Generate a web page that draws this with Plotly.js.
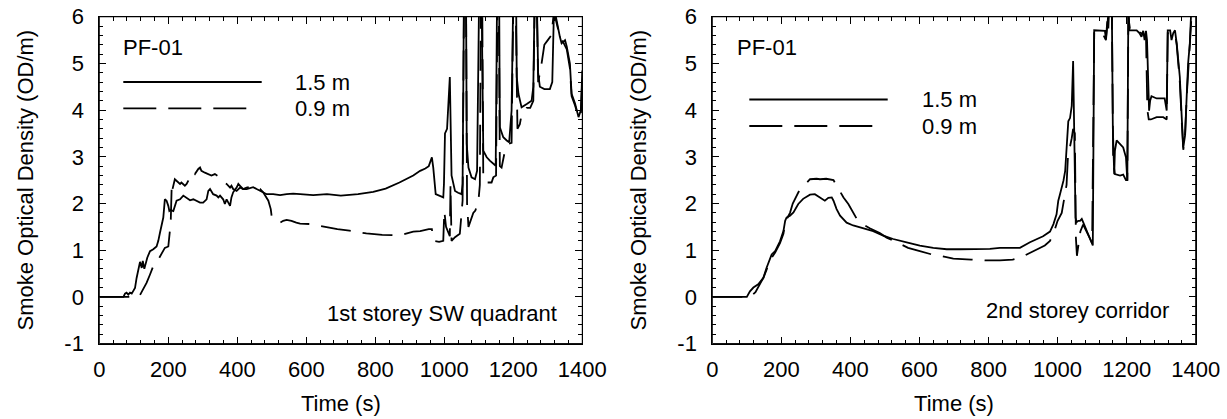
<!DOCTYPE html>
<html>
<head>
<meta charset="utf-8">
<script src="https://cdn.plot.ly/plotly-3.0.1.min.js"></script>
<style>
html,body{margin:0;padding:0;background:#fff;}
#wrap{position:relative;width:1227px;height:419px;overflow:hidden;}
#chartL{position:absolute;left:0;top:0;width:614px;height:419px;}
#chartR{position:absolute;left:614px;top:0;width:613px;height:419px;}
</style>
</head>
<body>
<div id="wrap"><div id="chartL"></div><div id="chartR"></div></div>
<script>
// ---- Data: 1st storey SW quadrant ----
const t1_15 = [0,70,74.5,79,84,89,94,98.6,103.5,108,113,118,123,126,130.5,134.5,139,147,156.5,166,171,176,181,185.5,190,195,200,203,207,214.5,224,234,243.5,253,263,272.5,282,292,301,311,316,321,330,340,345,350,359,364,369,374,379,383,388,398,403,408,417,427,437,446,456,466,475,485,504,524,543,562,582,620,660,700,750,794,830,870,910,930,945,955,964,968,975,985,997,999,1002,1008,1016,1021,1026,1031,1040,1050,1053,1057,1063,1065,1070,1079,1089,1095,1101,1108,1113,1123,1132,1142,1149,1153,1159,1161,1171,1181,1188,1195,1200,1208,1210,1215,1224,1239,1253,1258,1262,1268,1272,1277,1290,1306,1313,1318,1326,1335,1340,1350,1355,1364,1369,1379,1389,1396,1400];
const v1_15 = [0,0,0.07,0.09,0.05,0.09,0.07,0.12,0.19,0.4,0.55,0.75,0.62,0.77,0.6,0.7,0.84,0.98,1.02,1.08,1.2,1.38,1.56,1.7,2.09,2.06,1.95,1.84,1.86,1.84,2.06,2.09,2.17,2.13,2.07,2.09,2.06,2.02,2.02,2.09,2.27,2.31,2.2,2.17,2.13,2.17,2.09,1.99,2.09,2.02,1.95,2.13,2.24,2.34,2.42,2.38,2.31,2.31,2.34,2.35,2.31,2.27,2.24,2.2,2.2,2.18,2.2,2.21,2.2,2.18,2.2,2.17,2.2,2.25,2.32,2.45,2.6,2.7,2.75,2.8,2.99,2.77,2.2,2.17,2.13,2.42,3.5,3.6,4.71,2.6,2.42,2.27,2.23,2.2,2.42,6.5,6.5,3.28,2.77,2.56,2.52,2.7,6.5,6.5,3.13,2.99,2.92,2.85,2.81,6.5,6.5,3.63,3.42,3.35,3.31,3.99,6.5,6.5,4.71,4.35,4.06,4.13,4.2,4.5,6.5,6.5,4.8,4.5,4.45,4.45,4.6,6.2,5.86,5.57,5.43,5.5,5.36,5.0,4.35,4.14,3.85,4.0,4.85];
const t1_09 = [0,115,126,137,147,156.5,171,185.5,190,200,205,207,210,212,219,224,234,238,248,253,258,263,272.5,277,282,287,292,296,306,316,325,335,350,359,369,379,383,388,398,408,417,427,446,456,466,475,485,490,497,500,524,533,543,557,571,582,611,649,690,725,774,820,871,910,930,955,964,968,985,997,1000,1005,1016,1018,1021,1031,1045,1053,1057,1063,1066,1070,1084,1090,1099,1103,1106,1110,1113,1123,1137,1142,1150,1154,1158,1161,1166,1175,1186,1195,1200,1207,1212,1219,1224,1239,1249,1258,1262,1268,1272,1280,1290,1300,1310,1318,1326,1335,1345,1355,1364,1369,1379,1389,1396,1400];
const v1_09 = [0,0,0.15,0.3,0.48,0.66,0.8,0.98,1.05,1.08,1.41,1.59,2.42,2.3,2.52,2.49,2.42,2.45,2.38,2.42,2.49,2.63,2.66,2.63,2.7,2.74,2.77,2.7,2.66,2.63,2.6,2.63,2.56,2.45,2.42,2.34,2.38,2.31,2.27,2.34,2.31,2.34,2.38,2.34,2.31,2.24,2.13,2.06,1.88,1.7,1.59,1.63,1.65,1.63,1.59,1.57,1.56,1.5,1.45,1.42,1.36,1.33,1.32,1.4,1.41,1.45,1.45,1.2,1.18,1.2,1.84,1.5,1.3,2.4,1.2,1.28,1.35,2.06,6.3,6.3,2.0,1.5,1.8,1.85,2.06,2.4,6.3,6.3,2.5,2.45,2.45,2.56,2.6,6.3,6.3,2.8,2.77,3.1,3.28,3.3,6.3,6.3,3.6,3.7,3.9,4.05,4.05,4.2,6.3,6.3,4.6,4.9,5.4,5.5,5.6,6.1,5.86,5.57,5.45,5.3,4.9,4.3,4.1,3.85,3.95,4.7];

// ---- Data: 2nd storey corridor ----
const t2_15 = [0,100,109,119,133,148,157,172,182,196,206,211,215,225,235,249,263,283,297,312,326,336,346,351,360,370,389,408,437,466,495,524,563,601,640,679,718,746,804,833,891,920,939,958,978,988,997,1002,1007,1017,1022,1026,1031,1036,1041,1045,1048,1052,1055,1060,1065,1070,1074,1084,1094,1099,1102,1106,1128,1137,1140,1144,1147,1150,1157,1160,1164,1166,1171,1181,1190,1198,1202,1205,1208,1229,1237,1243,1248,1252,1256,1259,1262,1265,1268,1272,1287,1310,1316,1319,1326,1330,1335,1340,1345,1354,1360,1364,1369,1374,1378,1383,1388,1400];
const v2_15 = [0,0,0.12,0.2,0.27,0.41,0.62,0.91,0.98,1.19,1.41,1.63,1.7,1.74,1.81,1.99,2.1,2.19,2.2,2.13,2.06,2.12,2.13,2.06,1.88,1.74,1.59,1.53,1.47,1.41,1.31,1.24,1.17,1.1,1.05,1.02,1.02,1.02,1.03,1.05,1.05,1.17,1.24,1.3,1.4,1.56,1.77,2.06,2.2,2.49,2.7,3.1,3.76,3.83,4.09,5.05,3.0,1.7,1.6,1.63,1.63,1.67,1.6,1.41,1.25,1.15,1.1,5.71,5.71,5.7,5.53,5.9,5.75,6.3,6.3,3.63,2.63,3.13,3.35,3.27,3.2,2.99,2.49,6.3,5.71,5.71,5.65,5.57,5.7,5.5,5.7,5.5,4.35,3.99,4.2,4.3,4.25,4.25,3.99,5.71,5.71,5.5,5.65,5.71,5.43,4.71,3.78,3.2,3.45,4.35,5.0,5.43,6.3,6.5];
const t2_09 = [0,110,125,133,148,157,172,182,196,206,211,218,225,233,250,269,283,302,312,330,351,365,380,394,408,420,437,456,485,505,529,567,601,640,659,698,750,795,833,870,895,932,963,978,990,1000,1012,1026,1030,1041,1045,1050,1053,1056,1062,1066,1074,1084,1094,1100,1106,1128,1140,1150,1157,1161,1166,1181,1190,1198,1202,1205,1210,1229,1243,1256,1260,1264,1270,1287,1306,1316,1319,1340,1345,1354,1360,1364,1369,1374,1383,1390,1400];
const v2_09 = [0,0,0.1,0.2,0.41,0.58,0.84,0.95,1.15,1.35,1.6,1.7,1.8,2.0,2.25,2.41,2.52,2.53,2.52,2.53,2.5,2.32,2.13,1.99,1.81,1.65,1.55,1.47,1.37,1.27,1.19,1.05,0.98,0.9,0.88,0.82,0.8,0.78,0.78,0.8,0.85,0.98,1.1,1.2,1.4,1.63,1.8,2.4,3.0,3.4,3.6,3.5,1.27,0.88,1.27,1.4,1.55,1.41,1.25,1.15,5.65,5.68,5.5,6.3,6.3,2.9,2.63,2.6,2.62,2.5,2.5,6.0,5.7,5.7,5.65,5.6,4.0,3.8,3.8,3.85,3.85,3.8,5.65,5.65,5.4,4.6,3.7,3.15,3.4,4.3,5.4,6.3,6.5];

// ---- Tick labels and texts ----
const xTickVals = [0, 200, 400, 600, 800, 1000, 1200, 1400];
const xTickText = ['0', '200', '400', '600', '800', '1000', '1200', '1400'];
const yTickVals = [-1, 0, 1, 2, 3, 4, 5, 6];
const yTickText = ['-1', '0', '1', '2', '3', '4', '5', '6'];
const seriesNames = ['1.5 m', '0.9 m'];
const panelLabels = ['1st storey SW quadrant', '2nd storey corridor'];
const testName = 'PF-01';
const xTitle = 'Time (s)';
const yTitle = 'Smoke Optical Density (OD/m)';

const FONT = 'Liberation Sans, Arial, Helvetica, sans-serif';
const FS = 22;
const H = 419;

const solid = {color: '#000', width: 1.8};
const dashed = {color: '#000', width: 1.8, dash: '30px,12px'};

function xax(domain) {
  return {
    domain: domain, range: [0, 1400],
    tickmode: 'array', tickvals: xTickVals, ticktext: xTickText,
    showline: true, linecolor: '#000', linewidth: 1, mirror: 'allticks',
    ticks: 'inside', ticklen: 7, tickwidth: 1, tickcolor: '#000',
    showgrid: false, zeroline: false,
    tickfont: {family: FONT, size: FS, color: '#000'},
    ticklabelstandoff: 6,
    minor: {ticks: 'inside', ticklen: 4, tickwidth: 1, tickcolor: '#000', tickmode: 'linear', dtick: 40, tick0: 0, showgrid: false},
    title: {text: xTitle, font: {family: FONT, size: FS, color: '#000'}, standoff: 14}
  };
}
function yax() {
  return {
    domain: [0.18, 0.96], range: [-1, 6],
    tickmode: 'array', tickvals: yTickVals, ticktext: yTickText,
    showline: true, linecolor: '#000', linewidth: 1, mirror: 'allticks',
    ticks: 'inside', ticklen: 7, tickwidth: 1, tickcolor: '#000',
    showgrid: false, zeroline: false,
    tickfont: {family: FONT, size: FS, color: '#000'},
    ticklabelstandoff: 10,
    minor: {ticks: 'inside', ticklen: 4, tickwidth: 1, tickcolor: '#000', tickmode: 'linear', dtick: 0.2, tick0: 0, showgrid: false},
    title: {text: yTitle, font: {family: FONT, size: FS, color: '#000'}, standoff: 24}
  };
}

// Build one panel; positions given in page pixels, converted to the panel's own paper coordinates.
function panel(divId, W, off, plotL, plotR, tsol, vsol, tdash, vdash, label, lbl) {
  const px = x => (x - off) / W;
  const py = y => 1 - y / H;
  const ann = (text, x, y, xanchor) => ({text: text, xref: 'paper', yref: 'paper', x: px(x), y: py(y),
    xanchor: xanchor, yanchor: 'middle', showarrow: false, font: {family: FONT, size: FS, color: '#000'}});
  const seg = (x0, x1, y, dash) => ({type: 'line', xref: 'paper', yref: 'paper', x0: px(x0), x1: px(x1),
    y0: py(y), y1: py(y), line: {color: '#000', width: 1.8, dash: dash}});
  const traces = [
    {x: tsol, y: vsol, mode: 'lines', line: solid, name: seriesNames[0]},
    {x: tdash, y: vdash, mode: 'lines', line: dashed, name: seriesNames[1]}
  ];
  const layout = {
    width: W, height: H,
    margin: {l: 0, r: 0, t: 0, b: 0},
    showlegend: false,
    font: {family: FONT, size: FS, color: '#000'},
    xaxis: xax([px(plotL), px(plotR)]),
    yaxis: yax(),
    shapes: [
      {type: 'rect', xref: 'x domain', yref: 'y domain', x0: 0, x1: 1, y0: 0, y1: 1,
       line: {color: '#000', width: 1}, fillcolor: 'rgba(0,0,0,0)', layer: 'above'},
      seg(lbl.lx0, lbl.lx1, lbl.y1, 'solid'),
      seg(lbl.lx0, lbl.lx2, lbl.y2, '33px,12px')
    ],
    annotations: [
      ann(testName, lbl.px, 47, 'left'),
      ann(seriesNames[0], lbl.tx, lbl.y1, 'left'),
      ann(seriesNames[1], lbl.tx, lbl.y2, 'left'),
      ann(label, lbl.bx, lbl.by, 'right')
    ]
  };
  return Plotly.newPlot(divId, traces, layout, {staticPlot: true});
}

panel('chartL', 614, 0, 99.3, 582.3, t1_15, v1_15, t1_09, v1_09, panelLabels[0],
      {px: 121, lx0: 123.3, lx1: 261.7, lx2: 248, y1: 82, y2: 108.3, tx: 293, bx: 559, by: 313});
panel('chartR', 613, 614, 712.3, 1195.7, t2_15, v2_15, t2_09, v2_09, panelLabels[1],
      {px: 735, lx0: 749.3, lx1: 887.7, lx2: 875, y1: 99.5, y2: 126, tx: 920, bx: 1171, by: 310});
</script>
</body>
</html>
